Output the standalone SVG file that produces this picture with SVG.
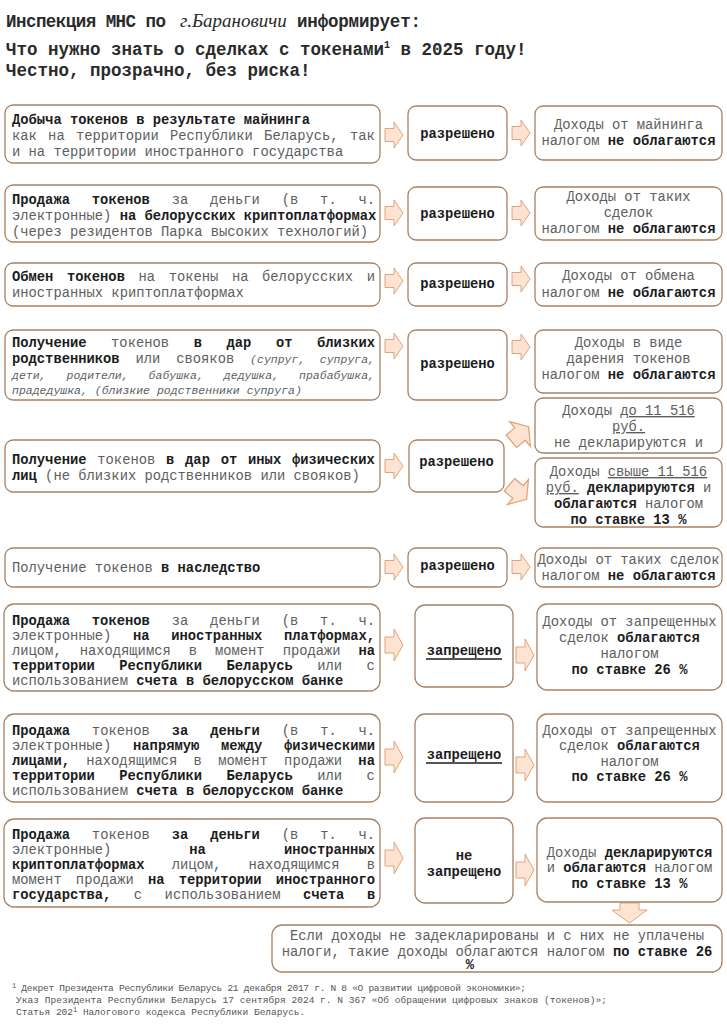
<svg xmlns="http://www.w3.org/2000/svg" xmlns:xlink="http://www.w3.org/1999/xlink" width="727" height="1024" viewBox="0 0 727 1024">
<defs>
<style>
.box{fill:#fff;stroke:#a98062;stroke-width:1.3}
.arr{fill:#fce3d2;stroke:#e0a47c;stroke-width:1}
text{font-family:"Liberation Mono","DejaVu Sans Mono",monospace;font-size:13.8px;fill:#5e5e5e}
.h{font-size:17.5px;font-weight:bold;fill:#2a2a2a}
.b{font-weight:bold;fill:#1c1c1c}
.it{font-style:italic;font-size:11.5px}
.c{text-anchor:middle}
.u{text-decoration:underline}
.fn{font-size:9.5px;fill:#555}
</style>
<path id="ar" d="M-9,-6.5 H0 V-13 L9,0 L0,13 V6.5 H-9 Z"/>
<path id="ar2" d="M-9,-8 H0 V-16 L9,0 L0,16 V8 H-9 Z"/>
</defs>
<rect width="727" height="1024" fill="#fff"/>

<g id="header">
<text class="h" x="6" y="27" textLength="160" lengthAdjust="spacing">Инспекция МНС по</text>
<text x="180" y="27" style="font-family:'Liberation Serif',serif;font-style:italic;font-size:19px;fill:#2a2a2a">г.Барановичи</text>
<text class="h" x="297" y="27" textLength="124" lengthAdjust="spacing">информирует:</text>
<text class="h" x="6" y="55">Что нужно знать о сделках с токенами<tspan font-size="10" dy="-7">1</tspan><tspan dy="7"> в 2025 году!</tspan></text>
<text class="h" x="6" y="76">Честно, прозрачно, без риска!</text>
</g>

<g id="connectors">
<use href="#ar" class="arr" transform="translate(394,135)"/>
<use href="#ar" class="arr" transform="translate(521,133)"/>
<use href="#ar" class="arr" transform="translate(394,213)"/>
<use href="#ar" class="arr" transform="translate(521,213)"/>
<use href="#ar" class="arr" transform="translate(394,281)"/>
<use href="#ar" class="arr" transform="translate(521,279)"/>
<use href="#ar" class="arr" transform="translate(394,346)"/>
<use href="#ar" class="arr" transform="translate(521,347)"/>
<use href="#ar" class="arr" transform="translate(394,466)"/>
<use href="#ar" class="arr" transform="translate(520,434) rotate(-40) scale(1.25)"/>
<use href="#ar" class="arr" transform="translate(518,492) rotate(40) scale(1.25)"/>
<use href="#ar" class="arr" transform="translate(394,567)"/>
<use href="#ar" class="arr" transform="translate(521,567)"/>
<use href="#ar2" class="arr" transform="translate(394,645)"/>
<use href="#ar2" class="arr" transform="translate(525,655)"/>
<use href="#ar2" class="arr" transform="translate(394,757)"/>
<use href="#ar2" class="arr" transform="translate(525,765)"/>
<use href="#ar2" class="arr" transform="translate(394,858)"/>
<use href="#ar2" class="arr" transform="translate(525,870)"/>
<path class="arr" d="M620,903 H639 V910 H647 L629.5,923 L612,910 H620 Z"/>
</g>

<g id="row1">
<rect class="box" x="5" y="105" width="375" height="58" rx="8"/>
<text x="12" y="124" class="b">Добыча токенов в результате майнинга</text>
<text x="12" y="140" word-spacing="3">как на территории Республики Беларусь, так</text>
<text x="12" y="156">и на территории иностранного государства</text>
<rect class="box" x="408" y="106" width="99" height="54" rx="8"/>
<text x="457.5" y="138" class="b c">разрешено</text>
<rect class="box" x="535" y="106" width="187" height="54" rx="8"/>
<text x="628.5" y="129" class="c">Доходы от майнинга</text>
<text x="628.5" y="145" class="c">налогом <tspan class="b">не облагаются</tspan></text>
</g>

<g id="row2">
<rect class="box" x="5" y="185" width="375" height="57" rx="8"/>
<text x="12" y="204" word-spacing="13.6"><tspan class="b">Продажа токенов</tspan> за деньги (в т. ч.</text>
<text x="12" y="220">электронные) <tspan class="b">на белорусских криптоплатформах</tspan></text>
<text x="12" y="236">(через резидентов Парка высоких технологий)</text>
<rect class="box" x="408" y="187" width="99" height="53" rx="8"/>
<text x="457.5" y="218" class="b c">разрешено</text>
<rect class="box" x="535" y="187" width="187" height="53" rx="8"/>
<text x="628.5" y="201" class="c">Доходы от таких</text>
<text x="628.5" y="217" class="c">сделок</text>
<text x="628.5" y="233" class="c">налогом <tspan class="b">не облагаются</tspan></text>
</g>

<g id="row3">
<rect class="box" x="5" y="263" width="375" height="43" rx="8"/>
<text x="12" y="281" word-spacing="5.3"><tspan class="b">Обмен токенов</tspan> на токены на белорусских и</text>
<text x="12" y="297">иностранных криптоплатформах</text>
<rect class="box" x="408" y="263" width="99" height="43" rx="8"/>
<text x="457.5" y="288" class="b c">разрешено</text>
<rect class="box" x="535" y="263" width="187" height="43" rx="8"/>
<text x="628.5" y="280" class="c">Доходы от обмена</text>
<text x="628.5" y="297" class="c">налогом <tspan class="b">не облагаются</tspan></text>
</g>

<g id="row4">
<rect class="box" x="5" y="330" width="375" height="70" rx="8"/>
<text x="12" y="347" word-spacing="16.3"><tspan class="b">Получение</tspan> токенов <tspan class="b">в дар от близких</tspan></text>
<text x="12" y="363" word-spacing="7.6"><tspan class="b">родственников</tspan> или свояков <tspan class="it">(супруг, супруга,</tspan></text>
<text x="12" y="379" class="it" word-spacing="13.1">дети, родители, бабушка, дедушка, прабабушка,</text>
<text x="12" y="394" class="it">прадедушка, (близкие родственники супруга)</text>
<rect class="box" x="408" y="330" width="99" height="70" rx="8"/>
<text x="457.5" y="368" class="b c">разрешено</text>
<rect class="box" x="535" y="330" width="187" height="63" rx="8"/>
<text x="628.5" y="347" class="c">Доходы в виде</text>
<text x="628.5" y="363" class="c">дарения токенов</text>
<text x="628.5" y="379" class="c">налогом <tspan class="b">не облагаются</tspan></text>
</g>

<g id="row5">
<rect class="box" x="5" y="440" width="375" height="52" rx="8"/>
<text x="12" y="464" word-spacing="2.5"><tspan class="b">Получение</tspan> токенов <tspan class="b">в дар от иных физических</tspan></text>
<text x="12" y="480"><tspan class="b">лиц</tspan> (не близких родственников или свояков)</text>
<rect class="box" x="409" y="440" width="95" height="52" rx="8"/>
<text x="456.5" y="466" class="b c">разрешено</text>
</g>

<g id="row5-top">
<rect class="box" x="535" y="398" width="187" height="55" rx="8"/>
<text x="628.5" y="415" class="c">Доходы <tspan class="u">до 11 516</tspan></text>
<text x="628.5" y="431" class="c u">руб.</text>
<text x="628.5" y="447" class="c">не декларируются и</text>
</g>

<g id="row5-bottom">
<rect class="box" x="535" y="458" width="187" height="69" rx="8"/>
<text x="628.5" y="476" class="c">Доходы <tspan class="u">свыше 11 516</tspan></text>
<text x="628.5" y="492" class="c"><tspan class="u">руб.</tspan> <tspan class="b">декларируются</tspan> и</text>
<text x="628.5" y="508" class="c"><tspan class="b">облагаются</tspan> налогом</text>
<text x="628.5" y="524" class="c b">по ставке 13 %</text>
</g>

<g id="row6">
<rect class="box" x="5" y="548" width="375" height="39" rx="8"/>
<text x="12" y="572">Получение токенов <tspan class="b">в наследство</tspan></text>
<rect class="box" x="408" y="548" width="99" height="39" rx="8"/>
<text x="457.5" y="570" class="b c">разрешено</text>
<rect class="box" x="535" y="548" width="187" height="39" rx="8"/>
<text x="628.5" y="564" class="c">Доходы от таких сделок</text>
<text x="628.5" y="580" class="c">налогом <tspan class="b">не облагаются</tspan></text>
</g>

<g id="row7">
<rect class="box" x="4" y="604" width="376" height="87" rx="10"/>
<text x="12" y="625" word-spacing="13.6"><tspan class="b">Продажа токенов</tspan> за деньги (в т. ч.</text>
<text x="12" y="640" word-spacing="13.4">электронные) <tspan class="b">на иностранных платформах,</tspan></text>
<text x="12" y="655" word-spacing="9.7">лицом, находящимся в момент продажи <tspan class="b">на</tspan></text>
<text x="12" y="670" word-spacing="16.2"><tspan class="b">территории Республики Беларусь</tspan> или с</text>
<text x="12" y="685">использованием <tspan class="b">счета в белорусском банке</tspan></text>
<rect class="box" x="415" y="605" width="98" height="82" rx="10"/>
<text x="464" y="655" class="b c">запрещено</text>
<line x1="426" y1="659" x2="502" y2="659" stroke="#1c1c1c" stroke-width="1.5"/>
<rect class="box" x="537" y="604" width="185" height="86" rx="10"/>
<text x="629.5" y="626" class="c">Доходы от запрещенных</text>
<text x="629.5" y="642" class="c">сделок <tspan class="b">облагаются</tspan></text>
<text x="629.5" y="658" class="c">налогом</text>
<text x="629.5" y="674" class="c b">по ставке 26 %</text>
</g>

<g id="row8">
<rect class="box" x="4" y="714" width="376" height="88" rx="10"/>
<text x="12" y="735" word-spacing="13.6"><tspan class="b">Продажа</tspan> токенов <tspan class="b">за деньги</tspan> (в т. ч.</text>
<text x="12" y="750" word-spacing="13.4">электронные) <tspan class="b">напрямую между физическими</tspan></text>
<text x="12" y="765" word-spacing="8"><tspan class="b">лицами,</tspan> находящимся в момент продажи <tspan class="b">на</tspan></text>
<text x="12" y="780" word-spacing="16.2"><tspan class="b">территории Республики Беларусь</tspan> или с</text>
<text x="12" y="795">использованием <tspan class="b">счета в белорусском банке</tspan></text>
<rect class="box" x="415" y="714" width="98" height="88" rx="10"/>
<text x="464" y="759" class="b c">запрещено</text>
<line x1="426" y1="763" x2="502" y2="763" stroke="#1c1c1c" stroke-width="1.5"/>
<rect class="box" x="537" y="714" width="185" height="88" rx="10"/>
<text x="629.5" y="735" class="c">Доходы от запрещенных</text>
<text x="629.5" y="750" class="c">сделок <tspan class="b">облагаются</tspan></text>
<text x="629.5" y="766" class="c">налогом</text>
<text x="629.5" y="781" class="c b">по ставке 26 %</text>
</g>

<g id="row9">
<rect class="box" x="4" y="819" width="376" height="88" rx="10"/>
<text x="12" y="839" word-spacing="13.6"><tspan class="b">Продажа</tspan> токенов <tspan class="b">за деньги</tspan> (в т. ч.</text>
<text x="12" y="854" word-spacing="69.7">электронные) <tspan class="b">на иностранных</tspan></text>
<text x="12" y="869" word-spacing="18.9"><tspan class="b">криптоплатформах</tspan> лицом, находящимся в</text>
<text x="12" y="884" word-spacing="5.9">момент продажи <tspan class="b">на территории иностранного</tspan></text>
<text x="12" y="899" word-spacing="14.2"><tspan class="b">государства,</tspan> с использованием <tspan class="b">счета в</tspan></text>
<rect class="box" x="415" y="818" width="98" height="85" rx="10"/>
<text x="464" y="860" class="b c">не</text>
<text x="464" y="876" class="b c">запрещено</text>
<rect class="box" x="537" y="818" width="185" height="84" rx="10"/>
<text x="629.5" y="857" class="c">Доходы <tspan class="b">декларируются</tspan></text>
<text x="629.5" y="872" class="c">и <tspan class="b">облагаются</tspan> налогом</text>
<text x="629.5" y="888" class="c b">по ставке 13 %</text>
</g>

<g id="bottom-note">
<rect class="box" x="272" y="925" width="450" height="47" rx="10"/>
<text x="497" y="940" class="c">Если доходы не задекларированы и с них не уплачены</text>
<text x="497" y="956" class="c">налоги, такие доходы облагаются налогом <tspan class="b">по ставке 26</tspan></text>
<text x="470" y="969" class="c b" font-size="8.5">%</text>
</g>

<g id="footnote">
<text class="fn" x="12" y="991" textLength="514" lengthAdjust="spacing"><tspan font-size="7" dy="-3">1</tspan><tspan dy="3"> Декрет Президента Республики Беларусь 21 декабря 2017 г. N 8 «О развитии цифровой экономики»;</tspan></text>
<text class="fn" x="16" y="1003" textLength="591" lengthAdjust="spacing">Указ Президента Республики Беларусь 17 сентября 2024 г. N 367 «Об обращении цифровых знаков (токенов)»;</text>
<text class="fn" x="16" y="1015">Статья 202<tspan font-size="7" dy="-3">1</tspan><tspan dy="3"> Налогового кодекса Республики Беларусь.</tspan></text>
</g>
</svg>
